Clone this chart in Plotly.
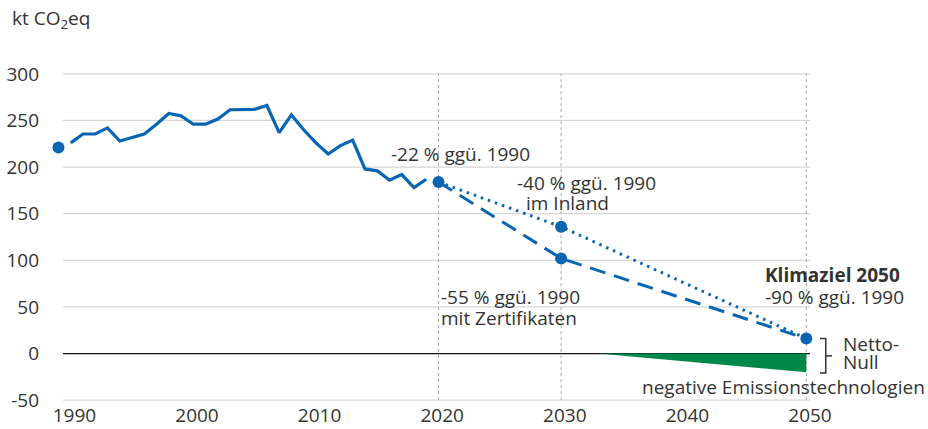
import plotly.graph_objects as go

# ---------------- data ----------------
hist_years = list(range(1990, 2020))
hist_values = [226, 235.5, 235.5, 242, 228, 232, 235.5, 246, 257.5, 255,
               246, 246, 251.5, 261.5, 261.5, 262, 266, 237, 256, 240,
               226, 214, 223, 229, 198, 196, 186, 192, 178, 187]

base_year_pos = [1989]          # marker for base year 1990 (drawn left of the series)
base_value = [221]

target_years = [2020, 2030, 2050]
path_inland = [184, 136, 16]       # -22 %, -40 % (Inland), -90 %
path_zert = [184, 102, 16]         # -22 %, -55 % (mit Zertifikaten), -90 %

neg_years = [2033, 2050]
neg_values = [0, -20]

vline_years = [2020, 2030, 2050]

x_tick_years = [1990, 2000, 2010, 2020, 2030, 2040, 2050]
y_ticks = [-50, 0, 50, 100, 150, 200, 250, 300]

# ---------------- style ----------------
BLUE = "#0a66b2"
GREEN = "#00884a"
TXT = "#333333"
FONT = "Open Sans"
FS = 19
GRID_X0 = 0.0171   # gridlines start a little right of the plot's left edge

fig = go.Figure()

# gridlines and zero line (as shapes so they start right of the base-year dot)
for t in y_ticks:
    fig.add_shape(type="line", xref="paper", yref="y", x0=GRID_X0, x1=1, y0=t, y1=t,
                  line=dict(color="#111111" if t == 0 else "#d6d6d6",
                            width=1.2 if t == 0 else 1.3),
                  layer="below")

# vertical dashed reference lines
for yr in vline_years:
    fig.add_shape(type="line", xref="x", yref="y", x0=yr, x1=yr,
                  y0=y_ticks[0], y1=y_ticks[-1],
                  line=dict(color="#a8a8a8", width=1, dash="3px,3px"), layer="below")

# negative emissions wedge
fig.add_trace(go.Scatter(
    x=neg_years + [neg_years[-1]], y=neg_values + [0],
    fill="toself", fillcolor=GREEN, mode="lines",
    line=dict(width=0, color=GREEN), hoverinfo="skip", showlegend=False))

# paths
fig.add_trace(go.Scatter(x=target_years, y=path_zert, mode="lines",
                         line=dict(color=BLUE, width=3, dash="16px,9px"),
                         showlegend=False))
fig.add_trace(go.Scatter(x=target_years, y=path_inland, mode="lines",
                         line=dict(color=BLUE, width=3, dash="2.5px,5px"),
                         showlegend=False))
# historic
fig.add_trace(go.Scatter(x=hist_years, y=hist_values, mode="lines",
                         line=dict(color=BLUE, width=3.2), showlegend=False))
# markers
fig.add_trace(go.Scatter(
    x=base_year_pos + target_years + [target_years[1]],
    y=base_value + path_inland + [path_zert[1]],
    mode="markers", marker=dict(color=BLUE, size=12),
    cliponaxis=False, showlegend=False))

# bracket for Netto-Null
fig.add_shape(type="path", xref="paper", yref="y",
              path="M 1.0132 16 L 1.0207 16 L 1.0207 -21 L 1.0132 -21",
              line=dict(color=TXT, width=1.5))
fig.add_shape(type="line", xref="paper", yref="y", x0=1.0207, x1=1.0289,
              y0=-2.5, y1=-2.5, line=dict(color=TXT, width=1.5))


def ann(text, x, y, xref="x", yref="y", xanchor="left", bold=False):
    fig.add_annotation(text=(f"<b>{text}</b>" if bold else text), x=x, y=y,
                       xref=xref, yref=yref, xanchor=xanchor, yanchor="middle",
                       showarrow=False, align="left",
                       font=dict(family=FONT, size=FS, color=TXT))


ann("-22 % ggü. 1990", 2016.0, 214)
ann("-40 % ggü. 1990", 2026.2, 183)
ann("im Inland", 2027.0, 162)
ann("-55 % ggü. 1990", 2020.0, 61)
ann("mit Zertifikaten", 2020.0, 38)
ann("Klimaziel 2050", 2046.5, 84, bold=True)
ann("-90 % ggü. 1990", 2046.5, 61)
ann("Netto-", 1.0408, 10, xref="paper")
ann("Null", 1.0408, -9, xref="paper")
ann("negative Emissionstechnologien", 1.1539, -36, xref="paper", xanchor="right")
ann("kt CO<sub>2</sub>eq", -0.0526, 1.162, xref="paper", yref="paper")

fig.update_layout(
    width=928, height=429,
    margin=dict(l=50, r=118, t=71.6, b=26.9),
    paper_bgcolor="white", plot_bgcolor="white",
    font=dict(family=FONT, size=FS, color=TXT),
    xaxis=dict(range=[1988.31, 2050.3], showgrid=False, zeroline=False,
               tickvals=[v + 0.3 for v in x_tick_years],
               ticktext=[str(v) for v in x_tick_years],
               ticks="", showline=False, automargin=False,
               tickfont=dict(family=FONT, size=FS, color=TXT)),
    yaxis=dict(range=[-52, 302], tickvals=y_ticks,
               ticktext=[str(v) for v in y_ticks],
               showgrid=False, zeroline=False,
               ticks="", showline=False, automargin=False,
               ticklabelstandoff=10,
               tickfont=dict(family=FONT, size=FS, color=TXT)),
)

fig.write_html("out.html", config={"displayModeBar": False},
               post_script="document.body.style.margin='0px';")
